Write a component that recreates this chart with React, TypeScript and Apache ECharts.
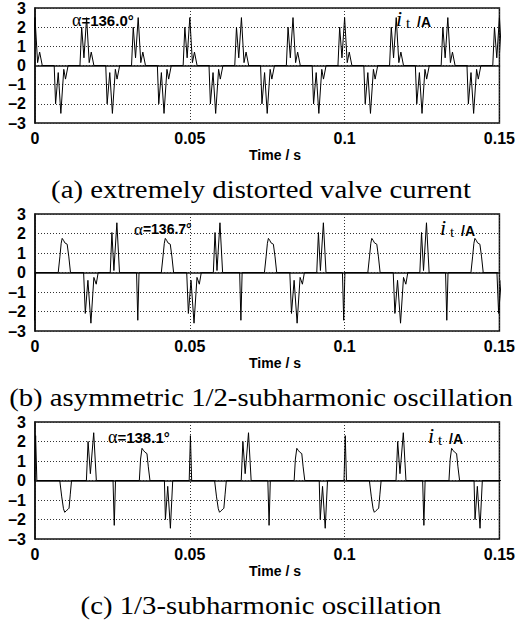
import React, { useEffect, useRef } from "react";
import * as echarts from "echarts";

// ---- axis ticks ----
const timeTicks = [0, 0.05, 0.1, 0.15];
const currentTicks = [-3, -2, -1, 0, 1, 2, 3];

// ---- panel (a): extremely distorted valve current ----
const aPosPeakTimes = [0, 0.01667, 0.03333, 0.05, 0.06667, 0.08333, 0.1, 0.11667, 0.13333, 0.15];
const aPosOffsetsMs = [-2.15, -1.6, -0.86, 0, 0.84, 1.5, 2.35];
const aPosValues = [0, 2.0, 0.4, 2.5, 0.15, 0.7, 0];
const aNegPeakTimes = [0.00835, 0.025, 0.04167, 0.05835, 0.075, 0.09167, 0.10835, 0.125, 0.14167];
const aNegOffsetsMs = [-2.15, -1.7, -0.85, 0, 0.95, 1.5, 2.35];
const aNegValues = [0, -2.0, -0.37, -2.5, -0.2, -0.71, 0];

// ---- panel (b): asymmetric 1/2-subharmonic oscillation ----
const bSpikeTimes = [-0.0002, 0.0332, 0.0665, 0.0997, 0.133];
const bSpikeOffsetsMs = [-0.4, 0, 0.4];
const bSpikeValues = [0, -2.45, 0];
const bHumpStarts = [0.0075, 0.0408, 0.0741, 0.1075, 0.1408];
const bHumpOffsetsMs = [0, 0.53, 0.96, 1.28, 1.71, 2.14, 2.89, 3.43, 3.96];
const bHumpValues = [0, 0.8, 1.5, 1.75, 1.65, 1.52, 1.45, 0.8, 0];
const bNegGroupStarts = [0.0157, 0.049, 0.0823, 0.1157, 0.1492];
const bNegOffsetsMs = [0, 0.54, 1.39, 2.36, 3.32, 4.07, 4.71];
const bNegValues = [0, -2.1, -0.4, -2.6, -0.25, -0.6, 0];
const bPosGroupStarts = [0.0243, 0.0576, 0.091, 0.1243];
const bPosOffsetsMs = [0, 0.54, 1.18, 2.14, 2.99];
const bPosValues = [0, 2.05, 0.1, 2.55, 0];

// ---- panel (c): 1/3-subharmonic oscillation ----
const cPosSpikeTimes = [0.0002, 0.0502, 0.1002];
const cPosSpikeOffsetsMs = [-0.4, 0, 0.4];
const cPosSpikeValues = [0, 2.3, 0];
const cNegHumpStarts = [0.008, 0.058, 0.108];
const cNegHumpOffsetsMs = [0, 0.6, 1.2, 1.6, 2.1, 2.7, 3.0, 3.4, 3.8];
const cNegHumpValues = [0, -0.8, -1.45, -1.63, -1.55, -1.47, -1.42, -0.7, 0];
const cPosGroupStarts = [0.0166, 0.0666, 0.1166];
const cPosGroupOffsetsMs = [0, 0.54, 1.28, 2.36, 3.21];
const cPosGroupValues = [0, 2.0, 0.35, 2.45, 0];
const cNegSpikeTimes = [0.0256, 0.0756, 0.1256];
const cNegSpikeOffsetsMs = [-0.4, 0, 0.4];
const cNegSpikeValues = [0, -2.3, 0];
const cPosHumpStarts = [0.0337, 0.0837, 0.1337];
const cPosHumpOffsetsMs = [0, 0.4, 0.86, 1.3, 1.82, 2.46, 2.9, 3.43];
const cPosHumpValues = [0, 1.1, 1.65, 1.55, 1.45, 1.38, 0.7, 0];
const cNegGroupStarts = [0.0418, 0.0918, 0.1418];
const cNegGroupOffsetsMs = [0, 0.32, 1.07, 1.93, 2.68];
const cNegGroupValues = [0, -2.0, -0.3, -2.45, 0];

// ---- texts ----
const alphaValues = ["=136.0°", "=136.7°", "=138.1°"];
const captions = [
  "(a) extremely distorted valve current",
  "(b) asymmetric 1/2-subharmonic oscillation",
  "(c) 1/3-subharmonic oscillation",
];
const xAxisTitle = "Time / s";

type Part = { times: number[]; offsets: number[]; values: number[] };

function buildTrace(parts: Part[]): [number, number][] {
  const pts: [number, number][] = [
    [-0.005, 0],
    [0.155, 0],
  ];
  parts.forEach((p) =>
    p.times.forEach((t0) =>
      p.offsets.forEach((o, i) => pts.push([t0 + o / 1000, p.values[i]]))
    )
  );
  pts.sort((a, b) => a[0] - b[0]);
  return pts;
}

const traces = [
  buildTrace([
    { times: aPosPeakTimes, offsets: aPosOffsetsMs, values: aPosValues },
    { times: aNegPeakTimes, offsets: aNegOffsetsMs, values: aNegValues },
  ]),
  buildTrace([
    { times: bSpikeTimes, offsets: bSpikeOffsetsMs, values: bSpikeValues },
    { times: bHumpStarts, offsets: bHumpOffsetsMs, values: bHumpValues },
    { times: bNegGroupStarts, offsets: bNegOffsetsMs, values: bNegValues },
    { times: bPosGroupStarts, offsets: bPosOffsetsMs, values: bPosValues },
  ]),
  buildTrace([
    { times: cPosSpikeTimes, offsets: cPosSpikeOffsetsMs, values: cPosSpikeValues },
    { times: cNegHumpStarts, offsets: cNegHumpOffsetsMs, values: cNegHumpValues },
    { times: cPosGroupStarts, offsets: cPosGroupOffsetsMs, values: cPosGroupValues },
    { times: cNegSpikeTimes, offsets: cNegSpikeOffsetsMs, values: cNegSpikeValues },
    { times: cPosHumpStarts, offsets: cPosHumpOffsetsMs, values: cPosHumpValues },
    { times: cNegGroupStarts, offsets: cNegGroupOffsetsMs, values: cNegGroupValues },
  ]),
];

const SANS = "'Liberation Sans', Arial, sans-serif";
const SERIF = "'Liberation Serif', 'Times New Roman', serif";

const PANEL_TOPS = [6, 214, 422];
const PANEL_H = 117;
const PLOT_L = 35;
const PLOT_W = 467;

const alphaPos = [
  { x: 72, y: 20, size: 15 },
  { x: 134, y: 229, size: 14 },
  { x: 108, y: 437, size: 15 },
];
const unitPos = [
  { x: 396, y: 29 },
  { x: 440, y: 238 },
  { x: 428, y: 446 },
];

function txt(x: number, y: number, style: any, align = "left", vAlign = "middle", extra: any = {}) {
  return {
    type: "text",
    x,
    y,
    silent: true,
    z: 100,
    ...extra,
    style: {
      fill: "#000",
      align,
      textAlign: align,
      verticalAlign: vAlign,
      textVerticalAlign: vAlign,
      ...style,
    },
  };
}

export default function App() {
  const ref = useRef<HTMLDivElement>(null);

  useEffect(() => {
    if (!ref.current) return;
    const chart = echarts.init(ref.current, undefined, { renderer: "svg" });

    const grids = PANEL_TOPS.map((top) => ({
      left: PLOT_L,
      top,
      width: PLOT_W,
      height: PANEL_H,
      show: true,
      borderColor: "#111",
      borderWidth: 1.5,
      backgroundColor: "transparent",
      containLabel: false,
    }));

    const dotted = { color: "#333", width: 1, type: [1, 2] as any };

    const xAxes = PANEL_TOPS.map((_, i) => ({
      type: "value",
      gridIndex: i,
      min: timeTicks[0],
      max: timeTicks[timeTicks.length - 1],
      interval: timeTicks[1] - timeTicks[0],
      axisLine: { show: true, lineStyle: { color: "#111", width: 1.5 } },
      axisTick: { show: false },
      splitLine: { show: true, lineStyle: dotted },
      axisLabel: {
        show: true,
        margin: 7,
        color: "#000",
        fontFamily: SANS,
        fontWeight: "bold",
        fontSize: 16,
        hideOverlap: false,
        showMinLabel: true,
        showMaxLabel: true,
        formatter: (v: number) => String(+v.toFixed(2)),
      },
    }));

    const yAxes = PANEL_TOPS.map((_, i) => ({
      type: "value",
      gridIndex: i,
      min: currentTicks[0],
      max: currentTicks[currentTicks.length - 1],
      interval: currentTicks[1] - currentTicks[0],
      axisLine: { show: true, lineStyle: { color: "#111", width: 1.5 } },
      axisTick: { show: false },
      splitLine: { show: true, lineStyle: dotted },
      axisLabel: {
        show: true,
        margin: 9,
        color: "#000",
        fontFamily: SANS,
        fontWeight: "bold",
        fontSize: 16,
        showMinLabel: true,
        showMaxLabel: true,
        formatter: (v: number) => (v < 0 ? "\u2013" + Math.abs(v) : String(v)),
      },
    }));

    const series = traces.map((data, i) => ({
      type: "line",
      xAxisIndex: i,
      yAxisIndex: i,
      data,
      showSymbol: false,
      symbol: "none",
      clip: true,
      lineStyle: { color: "#000", width: 1 },
      z: 5,
    }));

    const graphic: any[] = [];
    PANEL_TOPS.forEach((top, i) => {
      const off = top - PANEL_TOPS[0];
      graphic.push(
        txt(275, 155 + off, { text: xAxisTitle, fontFamily: SANS, fontWeight: "bold", fontSize: 14 }, "center")
      );
      graphic.push(
        txt(
          261,
          190 + off,
          { text: captions[i], fontFamily: SERIF, fontSize: 25 },
          "center",
          "middle",
          { scaleX: 1.15 }
        )
      );
      const a = alphaPos[i];
      graphic.push(
        txt(a.x, a.y, {
          text: "{g|α}{v|" + alphaValues[i] + "}",
          rich: {
            g: { fontFamily: SERIF, fontSize: a.size + 3, fill: "#000", color: "#000" },
            v: { fontFamily: SANS, fontWeight: "bold", fontSize: a.size, fill: "#000", color: "#000" },
          },
        })
      );
      const u = unitPos[i];
      graphic.push(
        txt(u.x, u.y, { text: "i", fontFamily: SERIF, fontStyle: "italic", fontSize: 22 }, "left", "bottom")
      );
      graphic.push(
        txt(u.x + 10, u.y + 1, { text: "t", fontFamily: SERIF, fontSize: 15 }, "left", "bottom")
      );
      graphic.push(
        txt(u.x + 21, u.y, { text: "/A", fontFamily: SANS, fontWeight: "bold", fontSize: 14 }, "left", "bottom")
      );
    });

    chart.setOption({
      animation: false,
      backgroundColor: "#fff",
      grid: grids,
      xAxis: xAxes,
      yAxis: yAxes,
      series,
      graphic,
    });

    return () => chart.dispose();
  }, []);

  return (
    <div
      ref={ref}
      style={{ position: "absolute", left: 0, top: 0, width: 518, height: 630, background: "#fff" }}
    />
  );
}
